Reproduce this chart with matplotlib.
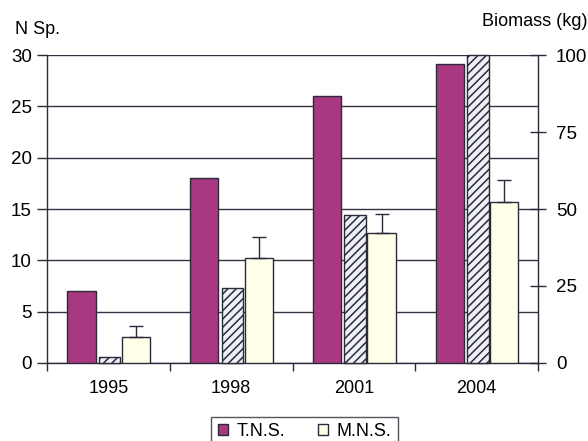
import matplotlib
matplotlib.use("Agg")
import matplotlib.pyplot as plt
import numpy as np

plt.rcParams['font.family'] = ['Liberation Sans', 'DejaVu Sans']
plt.rcParams['hatch.linewidth'] = 1.1

years = ["1995", "1998", "2001", "2004"]
tns = [7, 18, 26, 29.1]                 # total number of species
mns = [2.5, 10.2, 12.7, 15.7]           # mean number of species
mns_err = [1.1, 2.1, 1.8, 2.1]          # upper error
biomass = [2.0, 24.4, 48.0, 100.0]      # kg, right axis

fig = plt.figure(figsize=(5.88, 4.41), dpi=100)
ax = fig.add_axes([0.080, 0.177, 0.835, 0.698])
ax2 = ax.twinx()

x = np.arange(len(years))
tns_color = "#A8387F"
edge = "#2a2a3a"

ax.set_axisbelow(True)
ax.yaxis.grid(True, color="#333344", linewidth=1.0)

ax.bar(x - 0.22, tns, width=0.23, color=tns_color, edgecolor=edge, linewidth=1.0,
       zorder=3, label="T.N.S.")
ax.bar(x + 0.225, mns, width=0.23, color="#FFFFEA", edgecolor=edge, linewidth=1.0,
       zorder=3, label="M.N.S.")
ax.errorbar(x + 0.225, mns, yerr=[np.zeros(len(mns)), mns_err], fmt="none",
            ecolor=edge, elinewidth=1.0, capsize=5, capthick=1.0, zorder=4)
ax2.bar(x + 0.01, biomass, width=0.175, color="#EEF0F6", edgecolor=edge,
        linewidth=1.0, hatch="////", zorder=3, clip_on=False)

ax.set_xlim(-0.5, 3.5)
ax.set_ylim(0, 30)
ax2.set_ylim(0, 100)
ax.set_yticks(range(0, 31, 5))
ax2.set_yticks(range(0, 101, 25))
ax.set_xticks(x)
ax.set_xticklabels(years)
ax.set_xticks(np.arange(-0.5, 3.6, 1), minor=True)

for a in (ax, ax2):
    for s in a.spines.values():
        s.set_color(edge)
        s.set_linewidth(1.0)
    a.spines['top'].set_visible(False)
ax.spines['right'].set_visible(False)
ax2.spines['left'].set_visible(False)
ax2.spines['bottom'].set_visible(False)

ax.tick_params(axis='y', length=7, width=1.0, color=edge, labelsize=13.5, pad=4)
ax.tick_params(axis='x', which='major', length=0, labelsize=13, pad=12)
ax.tick_params(axis='x', which='minor', length=6, width=1.0, color=edge)
ax2.tick_params(axis='y', direction='inout', length=12, width=1.0, color=edge,
                labelsize=13.5, pad=7)

fig.text(0.026, 0.913, "N Sp.", fontsize=13, ha="left", va="bottom")
fig.text(0.999, 0.932, "Biomass (kg)", fontsize=13, ha="right", va="bottom")

handles, labels = ax.get_legend_handles_labels()
fig.legend(handles, labels, loc="upper center", bbox_to_anchor=(0.518, 0.075),
           ncol=2, frameon=True, fancybox=False, edgecolor=edge, fontsize=13,
           handlelength=0.55, handleheight=0.55, handletextpad=0.5,
           columnspacing=1.8, borderpad=0.35)

fig.savefig("out.png", dpi=100)
